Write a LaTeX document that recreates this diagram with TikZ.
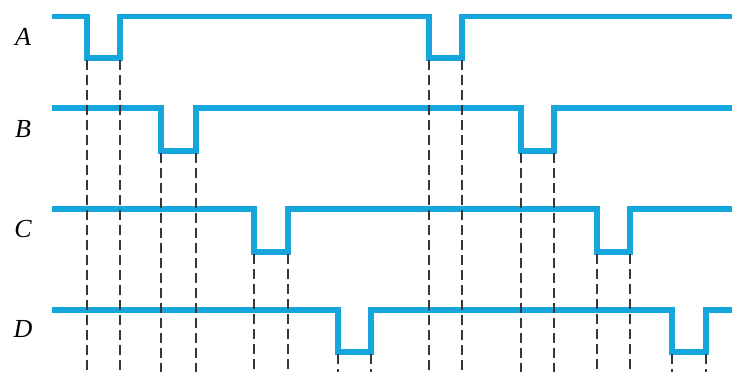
\documentclass[tikz,border=0pt]{standalone}
\usepackage{fontspec}
\setmainfont{Liberation Serif}
\definecolor{sig}{RGB}{22,166,222}
\definecolor{guide}{RGB}{55,55,55}
\begin{document}
\begin{tikzpicture}[x=1pt,y=-1pt,
  wave/.style={draw=sig,line width=5.4pt,line join=miter,line cap=butt},
  guideline/.style={draw=guide,line width=1.3pt,dash pattern=on 10pt off 5pt},
  lbl/.style={font=\fontsize{26}{26}\selectfont\itshape,inner sep=0pt}]
\useasboundingbox (0,0) rectangle (732,372);
% waveforms
\draw[wave] (52,16.5) -- (87,16.5) -- (87,58) -- (120,58) -- (120,16.5) -- (429,16.5) -- (429,58) -- (462,58) -- (462,16.5) -- (732,16.5);
\draw[wave] (52,108) -- (161,108) -- (161,151) -- (196,151) -- (196,108) -- (521,108) -- (521,151) -- (554,151) -- (554,108) -- (732,108);
\draw[wave] (52,209) -- (254,209) -- (254,252) -- (288,252) -- (288,209) -- (597,209) -- (597,252) -- (630,252) -- (630,209) -- (732,209);
\draw[wave] (52,310) -- (338,310) -- (338,352) -- (371,352) -- (371,310) -- (672,310) -- (672,352) -- (706,352) -- (706,310) -- (732,310);
% guides
\foreach \x/\y in {87/60,120/60,429/60,462/60,
                   161/153,196/153,521/153,554/153,
                   254/254,288/254,597/254,630/254,
                   338/354,371/354,672/354,706/354}
  \draw[guideline] (\x,\y) -- (\x,372);
% labels
\node[lbl] (la) at (23,37) {A};
\node[lbl] (lb) at (23,129) {B};
\node[lbl] (lc) at (23,229) {C};
\node[lbl] (ld) at (23,329) {D};
\end{tikzpicture}
\end{document}
